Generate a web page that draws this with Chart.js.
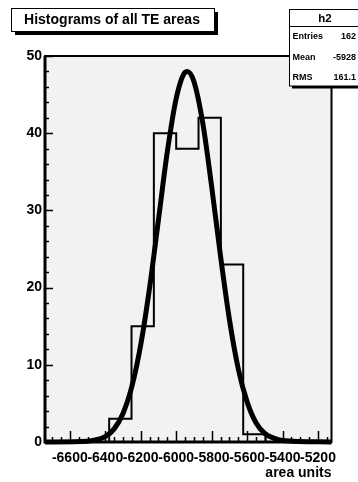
<!DOCTYPE html>
<html lang="en">
<head>
    <meta charset="UTF-8">
    <title>Histograms of all TE areas</title>
    <script src="https://cdn.jsdelivr.net/npm/chart.js"></script>
    <style>
        body {
            margin: 0;
            padding: 0;
            background: #ffffff;
        }
        #wrap {
            width: 358px;
            height: 482px;
        }
    </style>
</head>
<body>
    <div id="wrap"><canvas id="chart" width="358" height="482"></canvas></div>

    <script>
        // histogram h2: bin edges and counts
        const binEdges = [-6378, -6252, -6126, -6000, -5874, -5748, -5622, -5496];
        const binCounts = [3, 15, 40, 38, 42, 23, 1];

        // gaussian fit curve
        const fitX = [-6740, -6500, -6450, -6400, -6350, -6300, -6250, -6200, -6150, -6100, -6050, -6000,
                      -5950, -5938, -5900, -5850, -5800, -5750, -5700, -5650, -5600, -5550, -5500, -5450, -5400, -5124];
        const fitY = [0, 0.1, 0.3, 0.7, 1.7, 3.7, 7.2, 12.6, 20.0, 28.8, 37.6, 44.5,
                      47.9, 48.0, 46.7, 41.3, 33.1, 24.1, 15.9, 9.5, 5.2, 2.5, 1.1, 0.5, 0.2, 0];

        const xTickValues = [-6600, -6400, -6200, -6000, -5800, -5600, -5400, -5200];
        const yTickValues = [0, 10, 20, 30, 40, 50];

        const statsLabels = ['Entries', 'Mean', 'RMS'];
        const statsValues = ['162', '-5928', '161.1'];

        const FONT = "'Liberation Sans', Arial, sans-serif";

        // step outline of the histogram
        const histPoints = [{ x: binEdges[0], y: 0 }];
        binCounts.forEach((c, i) => histPoints.push({ x: binEdges[i], y: c }));
        histPoints.push({ x: binEdges[binEdges.length - 1], y: binCounts[binCounts.length - 1] });
        histPoints.push({ x: binEdges[binEdges.length - 1], y: 0 });

        const fitPoints = fitX.map((x, i) => ({ x: x, y: fitY[i] }));

        // ROOT style frame: grey pad, inward ticks, title box and stats box
        const rootFrame = {
            id: 'rootFrame',
            beforeDatasetsDraw(chart) {
                const ctx = chart.ctx;
                const a = chart.chartArea;
                const xs = chart.scales.x;
                const ys = chart.scales.y;
                ctx.save();
                ctx.fillStyle = '#f2f2f2';
                ctx.fillRect(a.left, a.top, a.right - a.left, a.bottom - a.top);

                ctx.strokeStyle = '#000';
                ctx.lineWidth = 1.5;
                ctx.beginPath();
                // x ticks every 50, long ones at labels
                for (let v = Math.ceil(xs.min / 50) * 50; v <= xs.max; v += 50) {
                    const px = Math.round(xs.getPixelForValue(v)) + 0.5;
                    const len = xTickValues.includes(v) ? 11 : 5;
                    ctx.moveTo(px, a.bottom);
                    ctx.lineTo(px, a.bottom - len);
                }
                // y ticks every 2, long ones at labels
                for (let v = 0; v <= ys.max; v += 2) {
                    const py = Math.round(ys.getPixelForValue(v)) + 0.5;
                    const len = yTickValues.includes(v) ? 8 : 4;
                    ctx.moveTo(a.left, py);
                    ctx.lineTo(a.left + len, py);
                }
                ctx.stroke();
                ctx.restore();
            },
            afterDraw(chart) {
                const ctx = chart.ctx;
                const a = chart.chartArea;
                ctx.save();
                ctx.strokeStyle = '#000';
                ctx.lineWidth = 2;
                ctx.strokeRect(a.left, a.top, a.right - a.left, a.bottom - a.top);
                ctx.lineWidth = 3;
                ctx.beginPath();
                ctx.moveTo(a.left, a.top);
                ctx.lineTo(a.left, a.bottom);
                ctx.lineTo(a.right, a.bottom);
                ctx.stroke();

                // title box
                ctx.fillStyle = '#000';
                ctx.fillRect(15, 12, 203, 23);
                ctx.fillStyle = '#fff';
                ctx.fillRect(11.5, 8.5, 203, 23);
                ctx.lineWidth = 1;
                ctx.strokeRect(11.5, 8.5, 203, 23);
                ctx.fillStyle = '#000';
                ctx.font = 'bold 14px ' + FONT;
                ctx.textAlign = 'center';
                ctx.textBaseline = 'middle';
                ctx.fillText('Histograms of all TE areas', 112, 20.5);

                // stats box
                ctx.fillStyle = '#000';
                ctx.fillRect(292, 12, 70, 76.5);
                ctx.fillStyle = '#fff';
                ctx.fillRect(289.5, 9.5, 72, 76.5);
                ctx.strokeRect(289.5, 9.5, 72, 76.5);
                ctx.beginPath();
                ctx.moveTo(289.5, 26.5);
                ctx.lineTo(362, 26.5);
                ctx.stroke();
                ctx.fillStyle = '#000';
                ctx.font = 'bold 11.5px ' + FONT;
                ctx.fillText('h2', 325, 18.5);
                ctx.font = 'bold 9px ' + FONT;
                const rowY = [37, 57.5, 77.5];
                statsLabels.forEach((lab, i) => {
                    ctx.textAlign = 'left';
                    ctx.fillText(lab, 292.5, rowY[i]);
                    ctx.textAlign = 'right';
                    ctx.fillText(statsValues[i], 356, rowY[i]);
                });
                ctx.restore();
            }
        };

        const chart = new Chart(document.getElementById('chart'), {
            type: 'scatter',
            data: {
                datasets: [{
                    label: 'fit',
                    data: fitPoints,
                    showLine: true,
                    borderColor: '#000',
                    borderWidth: 5,
                    pointRadius: 0,
                    cubicInterpolationMode: 'monotone',
                    clip: false
                }, {
                    label: 'h2',
                    data: histPoints,
                    showLine: true,
                    stepped: 'before',
                    borderColor: '#000',
                    borderWidth: 2,
                    pointRadius: 0
                }]
            },
            options: {
                responsive: false,
                animation: false,
                devicePixelRatio: 1,
                layout: {
                    padding: { top: 56, right: 26.5, left: 0, bottom: 0 }
                },
                plugins: {
                    legend: { display: false },
                    tooltip: { enabled: false }
                },
                scales: {
                    x: {
                        type: 'linear',
                        min: -6740,
                        max: -5124,
                        grid: { display: false, drawTicks: false },
                        border: { display: false },
                        afterBuildTicks: s => { s.ticks = xTickValues.map(v => ({ value: v })); },
                        afterFit: s => { s.height = 40; },
                        ticks: {
                            autoSkip: false,
                            maxRotation: 0,
                            minRotation: 0,
                            padding: 8,
                            color: '#000',
                            font: { family: FONT, size: 14, weight: 'bold' },
                            callback: v => String(v)
                        },
                        title: {
                            display: true,
                            text: 'area units',
                            align: 'end',
                            color: '#000',
                            padding: { top: -2, bottom: 0 },
                            font: { family: FONT, size: 14, weight: 'bold' }
                        }
                    },
                    y: {
                        min: 0,
                        max: 50,
                        grid: { display: false, drawTicks: false },
                        border: { display: false },
                        afterBuildTicks: s => { s.ticks = yTickValues.map(v => ({ value: v })); },
                        afterFit: s => { s.width = 45; },
                        ticks: {
                            padding: 3,
                            color: '#000',
                            font: { family: FONT, size: 14, weight: 'bold' }
                        }
                    }
                }
            },
            plugins: [rootFrame]
        });
    </script>
</body>
</html>
